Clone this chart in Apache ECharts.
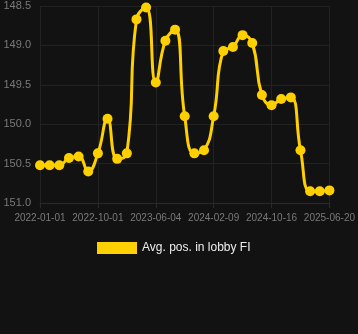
<!DOCTYPE html>
<html>
<head>
<meta charset="utf-8">
<script src="https://cdn.jsdelivr.net/npm/echarts@6/dist/echarts.min.js"></script>
<style>
html,body{margin:0;padding:0;background:#121212;}
#c{width:358px;height:334px;}
</style>
</head>
<body>
<div id="c"></div>
<script>
var categories = [
  '2022-01-01','2022-02-15','2022-04-01','2022-05-16','2022-07-01','2022-08-15',
  '2022-10-01','2022-11-11','2022-12-22','2023-02-01','2023-03-14','2023-04-24',
  '2023-06-04','2023-07-16','2023-08-27','2023-10-08','2023-11-18','2023-12-29',
  '2024-02-09','2024-03-21','2024-05-02','2024-06-12','2024-07-24','2024-09-04',
  '2024-10-16','2024-11-26','2025-01-06','2025-02-16','2025-03-29','2025-05-10',
  '2025-06-20'
];
var avgPos = [
  150.52, 150.52, 150.52, 150.43, 150.41, 150.60,
  150.37, 149.93, 150.44, 150.37, 148.67, 148.52,
  149.47, 148.94, 148.80, 149.90, 150.37, 150.33,
  149.90, 149.07, 149.02, 148.87, 148.97, 149.63,
  149.76, 149.68, 149.66, 150.33, 150.85, 150.85,
  150.84
];
var seriesName = 'Avg. pos. in lobby FI';

var chart = echarts.init(document.getElementById('c'));
chart.setOption({
  backgroundColor: '#121212',
  animation: false,
  grid: {left: 40, right: 28, top: 6, bottom: 131, containLabel: false},
  legend: {
    data: [seriesName],
    top: 237,
    left: 92,
    itemWidth: 40,
    itemHeight: 12,
    icon: 'rect',
    textStyle: {color: '#eeeeee', fontSize: 12}
  },
  xAxis: {
    type: 'category',
    data: categories,
    boundaryGap: false,
    axisLine: {show: true, lineStyle: {color: '#2a2a2a'}},
    axisTick: {show: true, interval: 5, lineStyle: {color: '#2a2a2a'}},
    axisLabel: {interval: 5, color: '#7a7a7a', fontSize: 10, margin: 10},
    splitLine: {show: true, interval: 5, lineStyle: {color: '#222222'}}
  },
  yAxis: {
    type: 'value',
    inverse: true,
    min: 148.5,
    max: 151,
    interval: 0.5,
    axisLine: {show: false},
    axisTick: {show: false},
    axisLabel: {color: '#7a7a7a', fontSize: 11, margin: 9,
      formatter: function (v) { return v.toFixed(1); }},
    splitLine: {show: true, lineStyle: {color: '#222222'}}
  },
  series: [{
    name: seriesName,
    type: 'line',
    data: avgPos,
    smooth: true,
    symbol: 'circle',
    symbolSize: 10,
    showAllSymbol: true,
    lineStyle: {width: 3, color: '#FFD000'},
    itemStyle: {color: '#FFD000'}
  }]
});
</script>
</body>
</html>
